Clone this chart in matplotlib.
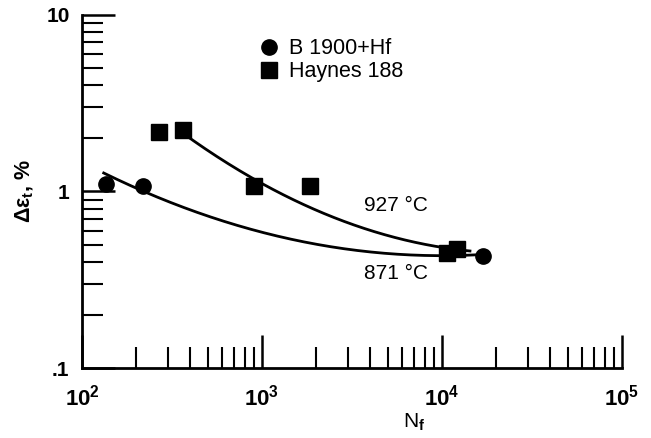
import numpy as np
import matplotlib
matplotlib.use("Agg")
import matplotlib.pyplot as plt
from matplotlib.ticker import LogLocator, FixedLocator, NullFormatter

plt.rcParams["font.family"] = ["Liberation Sans", "DejaVu Sans"]
plt.rcParams["mathtext.fontset"] = "custom"
plt.rcParams["mathtext.rm"] = "Liberation Sans:bold"
plt.rcParams["mathtext.it"] = "Liberation Sans:bold"
plt.rcParams["mathtext.bf"] = "Liberation Sans:bold"

# ensayos de fatiga: ciclos a falla vs rango de deformacion total
b1900_n = [136, 218, 16900]
b1900_de = [1.10, 1.08, 0.43]
haynes_n = [268, 364, 903, 1850, 10700, 12100]
haynes_de = [2.18, 2.22, 1.08, 1.08, 0.45, 0.47]

# puntos guia de las curvas ajustadas a mano
c871_n = [132, 233, 690, 2390, 10000, 17000]
c871_de = [1.30, 0.97, 0.62, 0.51, 0.44, 0.43]
c927_n = [360, 903, 3210, 9800, 14300]
c927_de = [2.22, 1.10, 0.68, 0.49, 0.45]


def smooth(n, de, k=2):
    lx, ly = np.log10(n), np.log10(de)
    coef = np.polyfit(lx, ly, k)
    xs = np.linspace(lx[0], lx[-1], 200)
    return 10 ** xs, 10 ** np.polyval(coef, xs)


fig = plt.figure(figsize=(6.51, 4.38), dpi=100)
ax = fig.add_axes([82 / 651, 1 - 368 / 438, 540 / 651, 353 / 438])
ax.set_xscale("log"); ax.set_yscale("log")
ax.set_xlim(100, 1e5); ax.set_ylim(0.1, 10)

for n, de in [(c871_n, c871_de), (c927_n, c927_de)]:
    xs, ys = smooth(n, de)
    ax.plot(xs, ys, color="black", lw=2, zorder=2)

ax.plot(b1900_n, b1900_de, "o", color="black", ms=11, ls="none", label="B 1900+Hf", zorder=3)
ax.plot(haynes_n, haynes_de, "s", color="black", ms=11.5, ls="none", label="Haynes 188", zorder=3)

ax.text(3700, 0.83, "927 °C", fontsize=15, ha="left", va="center")
ax.text(3700, 0.344, "871 °C", fontsize=15, ha="left", va="center")

leg = ax.legend(loc="upper left", bbox_to_anchor=(0.303, 0.958), frameon=False,
                fontsize=15.5, handletextpad=0.2, labelspacing=0.08, borderaxespad=0,
                handlelength=1.4)

for s in ["top", "right"]:
    ax.spines[s].set_visible(False)
for s in ["left", "bottom"]:
    ax.spines[s].set_linewidth(2)

ax.xaxis.set_major_locator(FixedLocator([1e2, 1e3, 1e4, 1e5]))
ax.xaxis.set_minor_locator(LogLocator(base=10, subs=np.arange(2, 10)))
ax.xaxis.set_minor_formatter(NullFormatter())
ax.set_xticklabels([r"$10^2$", r"$10^3$", r"$10^4$", r"$10^5$"])
ax.yaxis.set_major_locator(FixedLocator([0.1, 1, 10]))
ax.yaxis.set_minor_locator(LogLocator(base=10, subs=np.arange(2, 10)))
ax.yaxis.set_minor_formatter(NullFormatter())
ax.set_yticklabels([".1", "1", "10"])

ax.tick_params(which="major", direction="in", length=24, width=1.8)
ax.tick_params(axis="x", which="major", labelsize=16, pad=12)
ax.tick_params(axis="y", which="major", labelsize=15, pad=9)
ax.tick_params(which="minor", direction="in", length=15, width=1.5)
for t in ax.get_yticklabels():
    t.set_fontweight("bold")

ax.set_xlabel(r"N$_\mathrm{f}$", fontsize=15)
ax.xaxis.set_label_coords((414 - 82) / 540, -0.125)
ax.set_ylabel(r"$\Delta\varepsilon_\mathrm{t}$, %", fontsize=15.5, fontweight="bold")
ax.yaxis.set_label_coords(-0.085, 0.5)

fig.savefig("out.png", dpi=100)
